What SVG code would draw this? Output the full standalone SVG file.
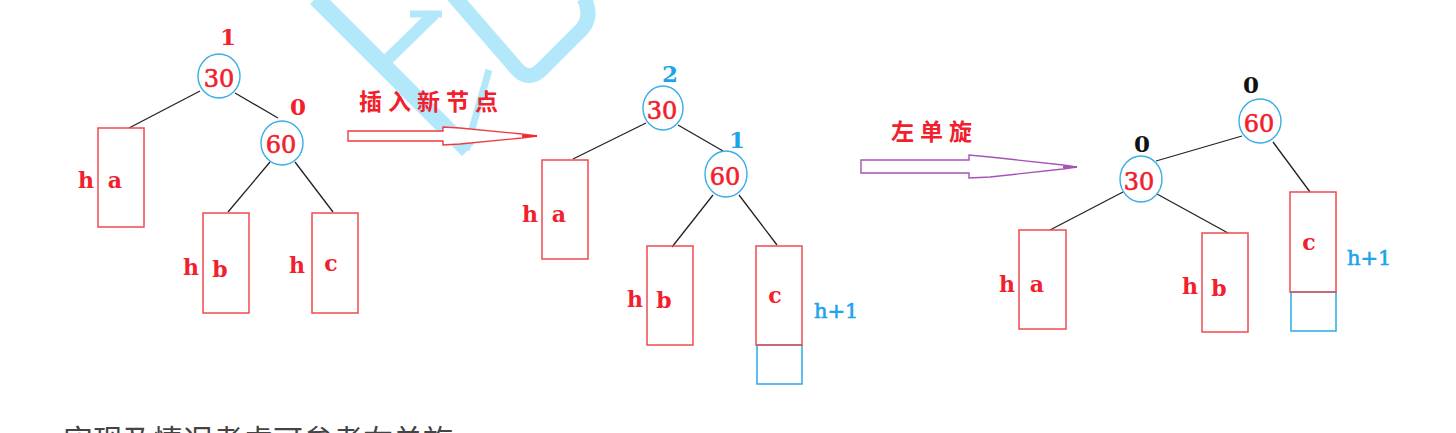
<svg xmlns="http://www.w3.org/2000/svg" width="1456" height="433" viewBox="0 0 1456 433">
<style>
.wm{fill:none;stroke:#b3e8fb;stroke-linecap:butt;stroke-linejoin:round}
.node{fill:#fff;stroke:#3aaee6;stroke-width:1.4}
.num{font-family:"DejaVu Serif","Liberation Serif",serif;font-size:24px;fill:#f2202c;stroke:#f2202c;stroke-width:0.6;text-anchor:middle}
.bf{font-family:"DejaVu Serif","Liberation Serif",serif;font-size:23px;font-weight:bold;text-anchor:middle}
.red{fill:#f2202c}
.blue{fill:#1ea3ea}
.blk{fill:#111}
.lt{font-family:"DejaVu Serif","Liberation Serif",serif;font-size:22px;font-weight:bold;fill:#f2202c;text-anchor:middle}
.hp{font-family:"DejaVu Serif","Liberation Serif",serif;font-size:21px;fill:#1ea3ea;stroke:#1ea3ea;stroke-width:0.6}
.box{fill:none;stroke:#f04a50;stroke-width:1.5}
.bbox{fill:none;stroke:#2aaae6;stroke-width:1.5}
.edge{stroke:#222;stroke-width:1.3;fill:none}
.cn{font-family:"Noto Sans CJK SC",sans-serif;font-weight:bold;font-size:23px;fill:#f2202c;letter-spacing:6px}
</style>
<rect width="1456" height="433" fill="#fff"/>
<g id="watermark">
<path class="wm" d="M316,-2 L468,150" stroke-width="17"/>
<path class="wm" d="M434,14 L384,63" stroke-width="12"/>
<path class="wm" d="M410,14 L442,14" stroke-width="7"/>
<path class="wm" d="M489,70 L466,150" stroke-width="7"/>
<path class="wm" d="M452,-6 L516,68 Q528,82 541,70 L582,29 Q593,16 584,-2" stroke-width="15"/>
</g>
<g id="connectors">
<line class="edge" x1="200" y1="91" x2="129" y2="128"/>
<line class="edge" x1="235" y1="93" x2="278" y2="118"/>
<line class="edge" x1="270" y1="162" x2="228" y2="212"/>
<line class="edge" x1="295" y1="162" x2="333" y2="212"/>
<line class="edge" x1="646" y1="123" x2="573" y2="159"/>
<line class="edge" x1="678" y1="125" x2="723" y2="151"/>
<line class="edge" x1="713" y1="195" x2="672" y2="247"/>
<line class="edge" x1="739" y1="195" x2="777" y2="245"/>
<line class="edge" x1="1242" y1="136" x2="1156" y2="161"/>
<line class="edge" x1="1273" y1="142" x2="1310" y2="192"/>
<line class="edge" x1="1157" y1="194" x2="1228" y2="233"/>
<line class="edge" x1="1123" y1="192" x2="1050" y2="230"/>
</g>
<g id="arrow-insert">
<polygon points="348,131 443,131 443,127 460,128 522,134 537,136 522,138 460,144 443,145 443,141 348,141" fill="#fff" stroke="#ee3a40" stroke-width="1.4"/>
<line x1="522" y1="136" x2="537" y2="136" stroke="#ee2a30" stroke-width="2"/>
<text class="cn" x="359" y="110">插入新节点</text>
</g>
<g id="arrow-rotate">
<polygon points="861,160 969,160 969,155 990,157 1063,165 1077,167 1063,169 990,177 969,178 969,173 861,173" fill="#fff" stroke="#a652b6" stroke-width="1.4"/>
<line x1="1063" y1="167" x2="1077" y2="167" stroke="#a652b6" stroke-width="2"/>
<text class="cn" x="891" y="140">左单旋</text>
</g>
<g id="t1-n30"><ellipse class="node" cx="219" cy="76" rx="21" ry="22"/><text class="num" x="219" y="87">30</text><text class="bf red" x="228" y="45">1</text></g>
<g id="t1-n60"><ellipse class="node" cx="282" cy="143" rx="21" ry="22"/><text class="num" x="281" y="153">60</text><text class="bf red" x="298" y="115">0</text></g>
<g id="t1-a"><rect class="box" x="98" y="128" width="46" height="99"/><text class="lt" x="86" y="188">h</text><text class="lt" x="115" y="188">a</text></g>
<g id="t1-b"><rect class="box" x="203" y="213" width="46" height="100"/><text class="lt" x="191" y="275">h</text><text class="lt" x="220" y="277">b</text></g>
<g id="t1-c"><rect class="box" x="312" y="213" width="46" height="100"/><text class="lt" x="297" y="273">h</text><text class="lt" x="331" y="271">c</text></g>
<g id="t2-n30"><ellipse class="node" cx="663" cy="108" rx="20" ry="22"/><text class="num" x="662" y="119">30</text><text class="bf blue" x="670" y="82">2</text></g>
<g id="t2-n60"><ellipse class="node" cx="726" cy="174" rx="21" ry="23"/><text class="num" x="725" y="185">60</text><text class="bf blue" x="737" y="148">1</text></g>
<g id="t2-a"><rect class="box" x="542" y="160" width="46" height="99"/><text class="lt" x="530" y="222">h</text><text class="lt" x="559" y="222">a</text></g>
<g id="t2-b"><rect class="box" x="647" y="246" width="46" height="99"/><text class="lt" x="635" y="307">h</text><text class="lt" x="664" y="308">b</text></g>
<g id="t2-c"><rect class="bbox" x="757" y="345" width="45" height="39"/><rect class="box" x="756" y="246" width="46" height="99"/><text class="lt" x="775" y="303">c</text><text class="hp" x="814" y="318">h+1</text></g>
<g id="t3-n60"><ellipse class="node" cx="1260" cy="121" rx="21" ry="22"/><text class="num" x="1259" y="132">60</text><text class="bf blk" x="1251" y="93">0</text></g>
<g id="t3-n30"><ellipse class="node" cx="1141" cy="179" rx="21" ry="23"/><text class="num" x="1139" y="190">30</text><text class="bf blk" x="1142" y="152">0</text></g>
<g id="t3-a"><rect class="box" x="1019" y="230" width="47" height="99"/><text class="lt" x="1007" y="292">h</text><text class="lt" x="1037" y="292">a</text></g>
<g id="t3-b"><rect class="box" x="1202" y="233" width="46" height="99"/><text class="lt" x="1190" y="294">h</text><text class="lt" x="1219" y="296">b</text></g>
<g id="t3-c"><rect class="bbox" x="1291" y="292" width="45" height="39"/><rect class="box" x="1290" y="192" width="46" height="100"/><text class="lt" x="1309" y="250">c</text><text class="hp" x="1347" y="265">h+1</text></g>
<text x="63" y="451" font-family="Noto Sans CJK SC,sans-serif" font-size="30" fill="#444">实现及情况考虑可参考右单旋</text>
</svg>
